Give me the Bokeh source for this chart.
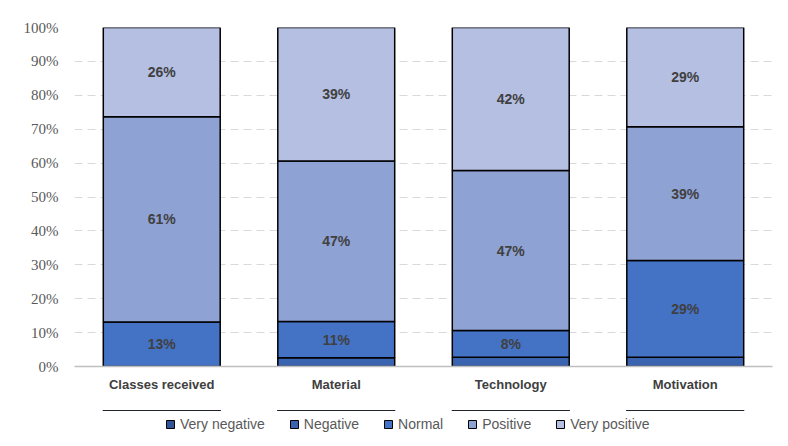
from bokeh.plotting import figure
from bokeh.layouts import column
from bokeh.models import (ColumnDataSource, Legend, LegendItem, FactorRange, FixedTicker,
                          CustomJSTickFormatter, Range1d)
from bokeh.core.properties import value
from bokeh.embed import file_html
from bokeh.resources import INLINE

categories = ["Classes received", "Material", "Technology", "Motivation"]
series = ["Very negative", "Negative", "Normal", "Positive", "Very positive"]
very_negative = [0.0, 0.0, 0.0, 0.0]
negative = [0.0, 2.6, 2.7, 2.7]
normal = [13.1, 10.7, 7.9, 28.6]
positive = [60.6, 47.3, 47.2, 39.4]
very_positive = [26.3, 39.4, 42.2, 29.3]
colors = ["#2f5597", "#3a64b0", "#4472c4", "#8fa2d4", "#b4bfe2"]
y_ticks = [0, 10, 20, 30, 40, 50, 60, 70, 80, 90, 100]

data = {"cat": categories}
for name, vals in zip(series, [very_negative, negative, normal, positive, very_positive]):
    data[name] = vals
source = ColumnDataSource(data)

p = figure(x_range=FactorRange(*categories), y_range=(0, 100),
           width=780, height=410, output_backend="svg", toolbar_location=None,
           min_border_left=74, min_border_right=8, min_border_top=27, min_border_bottom=44)

renderers = p.vbar_stack(series, x="cat", width=0.67, source=source,
                         fill_color=colors, line_color="#000000", line_width=1.5)

# data labels
lx, ly, lt = [], [], []
for i, c in enumerate(categories):
    base = 0.0
    for vals in [very_negative, negative, normal, positive, very_positive]:
        v = vals[i]
        if v >= 5:
            lx.append(c)
            ly.append(base + v / 2)
            lt.append(f"{round(v)}%")
        base += v
p.text(x=lx, y=ly, text=lt, text_align="center", text_baseline="middle",
       text_font=value("Liberation Sans"), text_font_style="bold",
       text_font_size="14px", text_color="#404040")

# axes
p.yaxis.ticker = FixedTicker(ticks=y_ticks)
p.yaxis.formatter = CustomJSTickFormatter(code="return tick + '%';")
p.yaxis.axis_line_color = None
p.yaxis.major_tick_line_color = None
p.yaxis.minor_tick_line_color = None
p.yaxis.major_label_text_font = "Liberation Serif"
p.yaxis.major_label_text_font_size = "15px"
p.yaxis.major_label_text_color = "#595959"
p.yaxis.major_label_standoff = 10

p.xaxis.axis_line_color = "#bfbfbf"
p.xaxis.axis_line_width = 1.5
p.xaxis.major_tick_line_color = None
p.xaxis.minor_tick_line_color = None
p.xaxis.major_label_text_font = "Liberation Sans"
p.xaxis.major_label_text_font_style = "bold"
p.xaxis.major_label_text_font_size = "13px"
p.xaxis.major_label_text_color = "#404040"
p.xaxis.major_label_standoff = 4

p.xgrid.grid_line_color = None
p.ygrid.grid_line_color = "#d9d9d9"
p.ygrid.grid_line_dash = "8 5"
p.ygrid.grid_line_width = 1
p.outline_line_color = None
p.x_range.range_padding = 0.0
p.x_range.group_padding = 0.0

# legend in its own strip below the chart (bars there are kept far out of view)
lp = figure(width=780, height=26, output_backend="svg", toolbar_location=None,
            x_range=FactorRange(*categories), y_range=Range1d(-100000, -99990),
            min_border_left=0, min_border_right=0, min_border_top=0, min_border_bottom=0)
lp.axis.visible = False
lp.grid.grid_line_color = None
lp.outline_line_color = None
swatches = lp.vbar_stack(series, x="cat", width=0.67, source=source,
                         fill_color=colors, line_color="#000000", line_width=1)
legend = Legend(items=[LegendItem(label=s, renderers=[r]) for s, r in zip(series, swatches)],
                orientation="horizontal", location=(91, 4),
                label_text_font="Liberation Sans", label_text_font_size="14px",
                label_text_color="#595959", glyph_width=10, glyph_height=10,
                spacing=24, label_standoff=5, border_line_color=None,
                background_fill_alpha=0, padding=4, margin=0)
lp.add_layout(legend, "center")

layout = column(p, lp, spacing=0)
open("out.html", "w").write(file_html(layout, INLINE))
